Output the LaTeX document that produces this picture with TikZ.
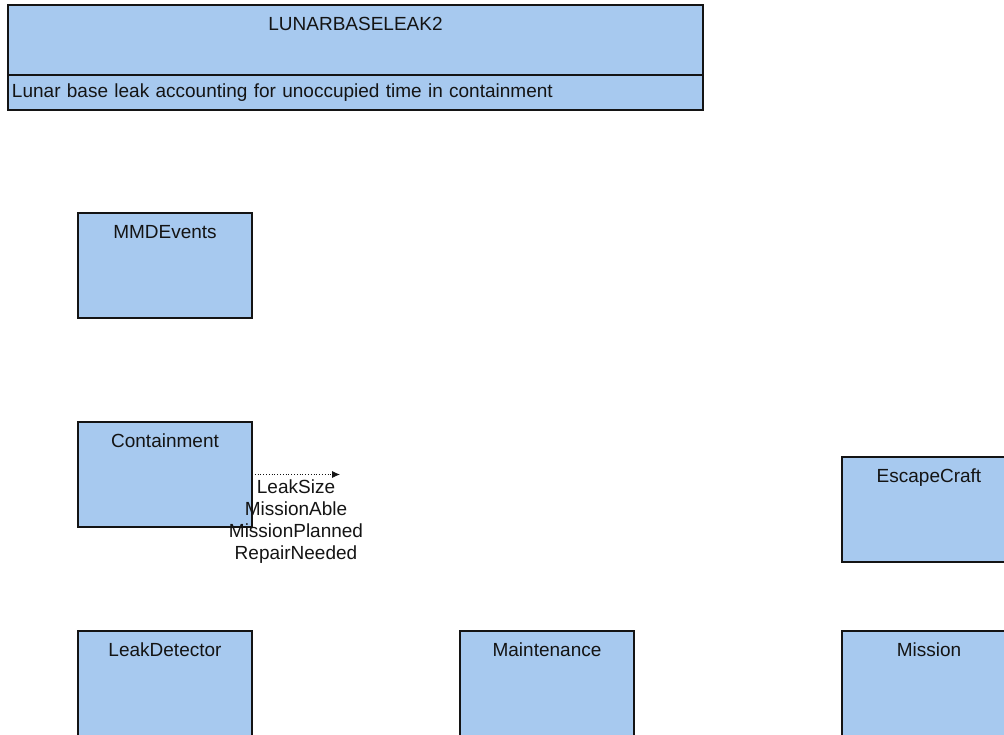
\documentclass[tikz,border=0pt]{standalone}
\usepackage{fontspec}
\setmainfont{Liberation Sans}
\usetikzlibrary{arrows.meta,positioning}
\definecolor{ink}{HTML}{141414}
\definecolor{blockfill}{HTML}{A7C9EF}
\tikzset{
  box/.style={draw=ink, line width=1.3pt, fill=blockfill, minimum width=174pt, minimum height=105pt, inner sep=0pt, outer sep=0pt},
  boxtext/.style={anchor=north, yshift=-12pt, inner sep=0pt, font=\fontsize{19}{22}\selectfont, text=ink},
  headbox/.style={draw=ink, line width=1.3pt, fill=blockfill, minimum width=695pt, minimum height=70pt, inner sep=0pt, outer sep=0pt},
  subbox/.style={draw=ink, line width=1.3pt, fill=blockfill, minimum width=695pt, minimum height=35pt, inner sep=4pt, outer sep=0pt,
    text width=687pt, align=left, font=\fontsize{19}{22}\selectfont, text=ink},
  flowlabel/.style={font=\fontsize{19}{22}\selectfont, text=ink, align=center, inner sep=0pt},
  flow/.style={-{Latex[length=8pt,width=7pt]}, dotted, line width=0.8pt, draw=ink}
}
\begin{document}
\begin{tikzpicture}[x=1pt,y=-1pt]
\useasboundingbox (0,0) rectangle (1004,734);
\node[headbox, anchor=north west, label={[boxtext]north:LUNARBASELEAK2}] (head) at (8,5) {};
\node[subbox, below=0pt of head] (sub) {Lunar base leak accounting for unoccupied time in containment};
\node[box, anchor=north west, label={[boxtext]north:MMDEvents}] (mmd) at (78,213) {};
\node[box, below=104pt of mmd, label={[boxtext]north:Containment}] (cont) {};
\node[box, below=104pt of cont, label={[boxtext]north:LeakDetector}] (det) {};
\node[box, right=208pt of det, label={[boxtext]north:Maintenance}] (maint) {};
\node[box, right=208pt of maint, label={[boxtext]north:Mission}] (mis) {};
\node[box, above=69pt of mis, label={[boxtext]north:EscapeCraft}] (esc) {};
\coordinate[right=88pt of cont.east] (out);
\draw[flow] (cont.east) -- (out) node[flowlabel, midway, below=5pt] {LeakSize\\MissionAble\\MissionPlanned\\RepairNeeded};
\end{tikzpicture}
\end{document}
